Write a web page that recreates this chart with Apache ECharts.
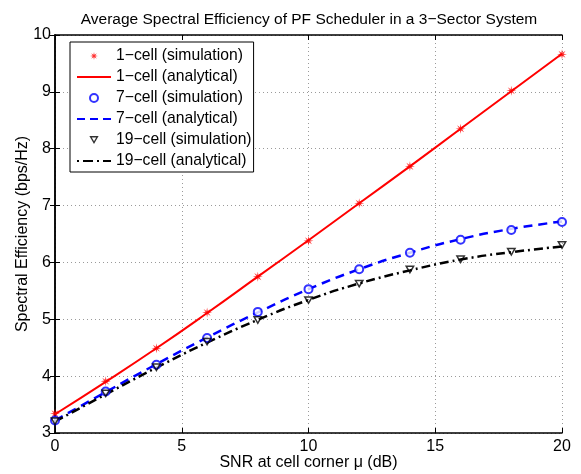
<!DOCTYPE html>
<html>
<head>
<meta charset="utf-8">
<script src="https://cdn.jsdelivr.net/npm/echarts@6/dist/echarts.min.js"></script>
<style>
  html, body { margin: 0; padding: 0; background: #fff; }
  #chart { width: 581px; height: 474px; }
</style>
</head>
<body>
<div id="chart"></div>
<script>
// SNR at cell corner (dB)
const snr = [0, 2, 4, 6, 8, 10, 12, 14, 16, 18, 20];

// simulation points
const sim1 = [3.34, 3.91, 4.49, 5.12, 5.75, 6.38, 7.04, 7.69, 8.35, 9.02, 9.66];
const sim7 = [3.22, 3.73, 4.20, 4.67, 5.13, 5.53, 5.88, 6.17, 6.40, 6.57, 6.71];
const sim19 = [3.20, 3.69, 4.15, 4.60, 4.98, 5.33, 5.62, 5.87, 6.05, 6.18, 6.30];

// analytical curves
const ana1 = [3.33, 3.90, 4.49, 5.11, 5.75, 6.39, 7.04, 7.69, 8.35, 9.01, 9.67];
const ana7 = [3.22, 3.72, 4.21, 4.68, 5.12, 5.53, 5.88, 6.17, 6.41, 6.59, 6.72];
const ana19 = [3.20, 3.68, 4.15, 4.59, 4.99, 5.34, 5.63, 5.86, 6.05, 6.18, 6.28];

const labels = [
  '1\u2212cell (simulation)', '1\u2212cell (analytical)',
  '7\u2212cell (simulation)', '7\u2212cell (analytical)',
  '19\u2212cell (simulation)', '19\u2212cell (analytical)'
];

const FONT = 'Liberation Sans, Arial, Helvetica, sans-serif';

// eight-armed asterisk marker (matlab '*')
function asteriskPath() {
  const pts = [];
  const n = 8;
  for (let i = 0; i < n * 2; i++) {
    const a = (Math.PI * i) / n - Math.PI / 2;
    const r = i % 2 === 0 ? 10 : 3.4;
    pts.push((r * Math.cos(a)).toFixed(2) + ',' + (r * Math.sin(a)).toFixed(2));
  }
  return 'path://M' + pts.join(' L') + ' Z';
}
const ASTERISK = asteriskPath();
// hollow down-pointing triangle (inner path wound the other way)
const TRI_DOWN = 'path://M0,0 L10,0 L5,8.66 Z M2.6,1.5 L5,5.66 L7.4,1.5 Z';

// legend line samples (34 x 2 boxes)
const ICON_SOLID = 'path://M0,0 H34 V2 H0 Z';
const ICON_DASH = 'path://M0,0 H8 V2.2 H0 Z M13,0 H21 V2.2 H13 Z M26,0 H34 V2.2 H26 Z';
const ICON_DASHDOT = 'path://M0,0 H2 V2.2 H0 Z M6,0 H16 V2.2 H6 Z M20,0 H22 V2.2 H20 Z M26,0 H34 V2.2 H26 Z';

const pairs = (ys) => snr.map((x, i) => [x, ys[i]]);

const chart = echarts.init(document.getElementById('chart'), null, { renderer: 'canvas' });

const gridLine = { show: true, lineStyle: { color: '#9a9a9a', type: [1, 3], width: 1 } };

chart.setOption({
  backgroundColor: '#fff',
  animation: false,
  textStyle: { fontFamily: FONT },
  title: {
    text: 'Average Spectral Efficiency of PF Scheduler in a 3\u2212Sector System',
    left: 304,
    textAlign: 'center',
    top: 7,
    textStyle: { fontFamily: FONT, fontSize: 15.5, fontWeight: 'normal', color: '#000' }
  },
  grid: { left: 55, right: 19, top: 35, bottom: 41, containLabel: false, outerBoundsMode: 'none' },
  legend: {
    orient: 'vertical',
    left: 70,
    top: 42,
    data: [
      { name: labels[0] },
      { name: labels[1], icon: ICON_SOLID },
      { name: labels[2] },
      { name: labels[3], icon: ICON_DASH },
      { name: labels[4] },
      { name: labels[5], icon: ICON_DASHDOT }
    ],
    itemWidth: 34,
    itemHeight: 8,
    itemGap: 5,
    padding: [6, 2, 3, 7],
    borderColor: '#000',
    borderWidth: 1,
    borderRadius: 0,
    backgroundColor: '#fff',
    textStyle: { fontFamily: FONT, fontSize: 15.7, color: '#000' }
  },
  xAxis: [
    {
      type: 'value', min: 0, max: 20, interval: 5,
      name: 'SNR at cell corner \u03bc (dB)', nameLocation: 'middle', nameGap: 22,
      nameMoveOverlap: false,
      nameTextStyle: { fontFamily: FONT, fontSize: 16, color: '#000' },
      axisLine: { lineStyle: { color: '#000', width: 1.5 } },
      axisTick: { inside: true, length: 5, lineStyle: { color: '#000' } },
      axisLabel: { fontFamily: FONT, fontSize: 16, color: '#000', margin: 6 },
      splitLine: gridLine
    },
    {
      type: 'value', min: 0, max: 20, interval: 5, position: 'top',
      axisLine: { show: true, lineStyle: { color: '#000', width: 1.5 } },
      axisTick: { inside: true, length: 5, lineStyle: { color: '#000' } },
      axisLabel: { show: false },
      splitLine: { show: false }
    }
  ],
  yAxis: [
    {
      type: 'value', min: 3, max: 10, interval: 1,
      name: 'Spectral Efficiency (bps/Hz)', nameLocation: 'middle', nameGap: 24,
      nameMoveOverlap: false,
      nameTextStyle: { fontFamily: FONT, fontSize: 16, color: '#000' },
      axisLine: { show: true, lineStyle: { color: '#000', width: 1.5 } },
      axisTick: { show: true, inside: true, length: 5, lineStyle: { color: '#000' } },
      axisLabel: { fontFamily: FONT, fontSize: 16, color: '#000', margin: 4 },
      splitLine: gridLine
    },
    {
      type: 'value', min: 3, max: 10, interval: 1, position: 'right',
      axisLine: { show: true, lineStyle: { color: '#000', width: 1.5 } },
      axisTick: { show: true, inside: true, length: 5, lineStyle: { color: '#000' } },
      axisLabel: { show: false },
      splitLine: { show: false }
    }
  ],
  series: [
    {
      name: labels[0], type: 'scatter', data: pairs(sim1), z: 5,
      symbol: ASTERISK, symbolSize: 10, symbolKeepAspect: true,
      itemStyle: { color: '#ff0000' }
    },
    {
      name: labels[1], type: 'line', data: pairs(ana1), smooth: true, showSymbol: false,
      lineStyle: { color: '#ff0000', width: 2 }, itemStyle: { color: '#ff0000' }
    },
    {
      name: labels[2], type: 'scatter', data: pairs(sim7), z: 5,
      symbol: 'emptyCircle', symbolSize: 8,
      itemStyle: { color: '#0000ff', borderColor: '#0000ff', borderWidth: 1.2 }
    },
    {
      name: labels[3], type: 'line', data: pairs(ana7), smooth: true, showSymbol: false,
      lineStyle: { color: '#0000ff', width: 2.5, type: [9, 6] }, itemStyle: { color: '#0000ff' }
    },
    {
      name: labels[4], type: 'scatter', data: pairs(sim19), z: 5,
      symbol: TRI_DOWN, symbolSize: 10, symbolKeepAspect: true,
      itemStyle: { color: '#000' }
    },
    {
      name: labels[5], type: 'line', data: pairs(ana19), smooth: true, showSymbol: false,
      lineStyle: { color: '#000', width: 2.5, type: [9, 4, 2, 4] }, itemStyle: { color: '#000' }
    }
  ]
});
</script>
</body>
</html>
